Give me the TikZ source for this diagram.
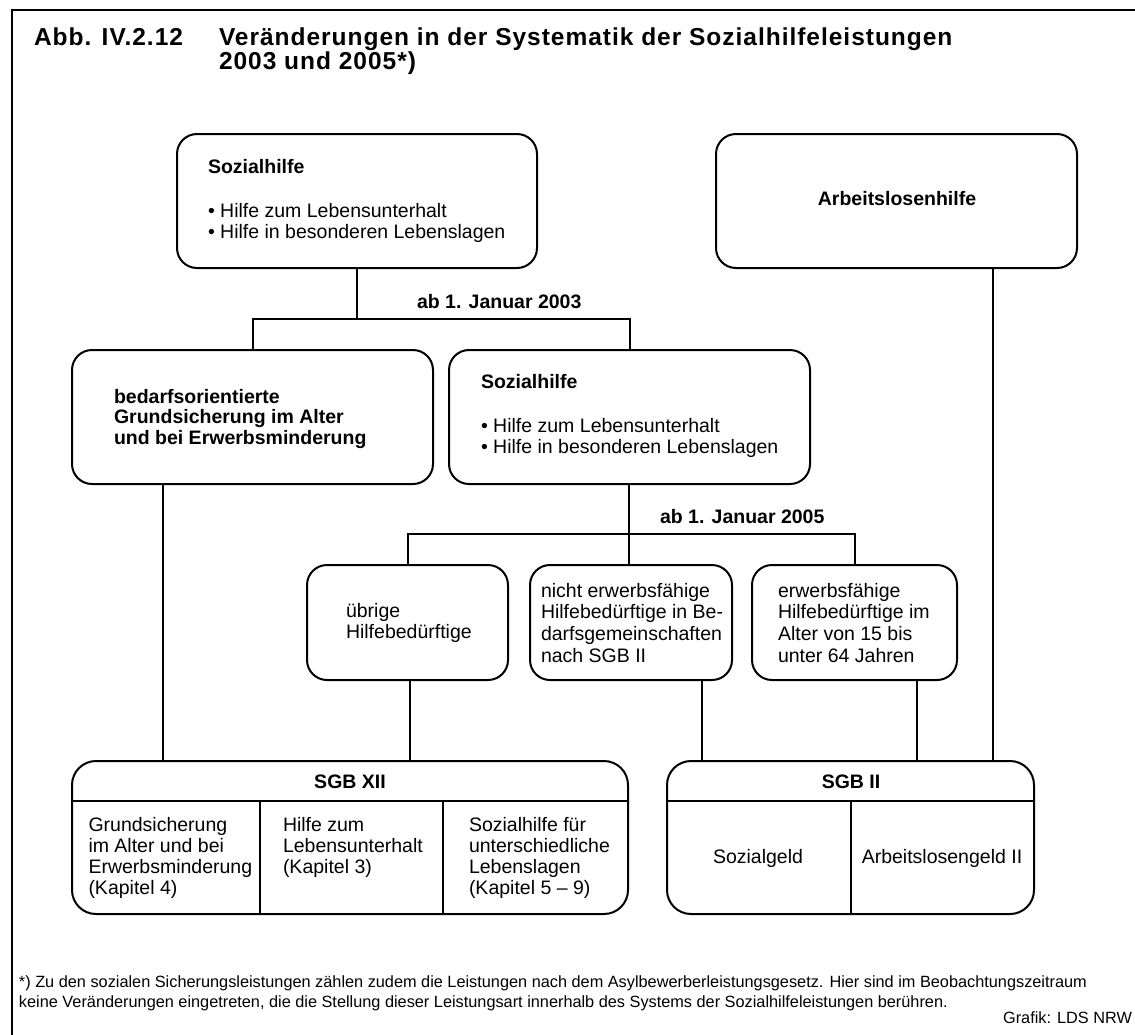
\documentclass[tikz,border=0pt]{standalone}
\usepackage{fontspec}
\setmainfont{Liberation Sans}
\newfontfamily\titlefont[LetterSpace=4]{Liberation Sans}
\newcommand\mlines[1]{\begin{tabular}[t]{@{}l@{}}#1\end{tabular}}
\begin{document}
\begin{tikzpicture}[x=1pt,y=-1pt,line width=2pt,
  box/.style={draw,rounded corners=20pt,inner sep=0pt,line width=2pt},
  bigbox/.style={draw,rounded corners=24pt,inner sep=0pt,line width=2pt},
  txt/.style={inner sep=0pt,anchor=base west,font=\fontsize{19.5}{21.5}\selectfont},
  btxt/.style={txt,font=\fontsize{19.5}{21.5}\selectfont\bfseries},
  ctxt/.style={inner sep=0pt,anchor=base,font=\fontsize{19.5}{21.5}\selectfont},
  bctxt/.style={ctxt,font=\fontsize{19.5}{21.5}\selectfont\bfseries},
  ttl/.style={inner sep=0pt,anchor=base west,font=\fontsize{24.5}{23}\titlefont\bfseries},
  fn/.style={inner sep=0pt,anchor=base west,font=\fontsize{16.3}{20}\selectfont}]
\useasboundingbox (0,0) rectangle (1135,1034);
% frame
\coordinate (fbl) at (12,1040);
\coordinate (ftl) at (12,10);
\coordinate (ftr) at (1140,10);
\draw[line width=2pt] (fbl) -- (ftl) -- (ftr);
% title
\node[ttl] (t1) at (33,45) {Abb. IV.2.12};
\node[ttl] (t2) at (218,45) {\mlines{Veränderungen in der Systematik der Sozialhilfeleistungen\\2003 und 2005*)}};
% top row
\node[box,minimum width=360,minimum height=134] (sh1) at (357,201) {};
\node[btxt] (sh1h) at (207,173) {Sozialhilfe};
\node[txt] (sh1b) at (207,217) {\mlines{• Hilfe zum Lebensunterhalt\\• Hilfe in besonderen Lebenslagen}};
\node[box,minimum width=361,minimum height=134] (alh) at (896.5,201) {};
\node[bctxt] (alht) at (897,205) {Arbeitslosenhilfe};
% second row
\node[box,minimum width=361,minimum height=134] (bed) at (252.5,417) {};
\node[txt,font=\fontsize{19.5}{20.5}\selectfont\bfseries] (bedt) at (113,403) {\mlines{bedarfsorientierte\\Grundsicherung im Alter\\und bei Erwerbsminderung}};
\node[box,minimum width=361,minimum height=134] (sh2) at (629.5,417) {};
\node[btxt] (sh2h) at (480,388) {Sozialhilfe};
\node[txt] (sh2b) at (480,432) {\mlines{• Hilfe zum Lebensunterhalt\\• Hilfe in besonderen Lebenslagen}};
% split 2003
\coordinate (j1) at (357,319);
\draw (sh1.south) -- (j1);
\draw (bed.north) |- (j1) -| (sh2.north);
\node[btxt] (ab03) at (416,308) {ab 1. Januar 2003};
% third row
\node[box,minimum width=201,minimum height=115] (ueb) at (407.5,622.5) {};
\node[txt] (uebt) at (345,617) {\mlines{übrige\\Hilfebedürftige}};
\node[box,minimum width=202,minimum height=115] (nef) at (631,622.5) {};
\node[txt,font=\fontsize{19.5}{21.7}\selectfont] (neft) at (540,597) {\mlines{nicht erwerbsfähige\\Hilfebedürftige in Be-\\darfsgemeinschaften\\nach SGB II}};
\node[box,minimum width=205,minimum height=115] (ef) at (854.5,622.5) {};
\node[txt,font=\fontsize{19.5}{21.7}\selectfont] (eft) at (777,597) {\mlines{erwerbsfähige\\Hilfebedürftige im\\Alter von 15 bis\\unter 64 Jahren}};
% split 2005
\coordinate (j2) at (629,534);
\coordinate (xsh2) at (629,0);
\draw (sh2.south -| xsh2) -- (nef.north -| xsh2);
\draw (ueb.north) |- (j2) -| (ef.north);
\node[btxt] (ab05) at (659,523) {ab 1. Januar 2005};
% bottom boxes
\node[bigbox,minimum width=556,minimum height=153] (sgb12) at (350,837.5) {};
\node[bigbox,minimum width=367,minimum height=153] (sgb2) at (850.5,837.5) {};
\coordinate (h12) at (0,801);
\draw (sgb12.west |- h12) -- (sgb12.east |- h12);
\draw (sgb2.west |- h12) -- (sgb2.east |- h12);
\coordinate (d1) at (260,801);
\coordinate (d2) at (443,801);
\coordinate (d3) at (851,801);
\draw (d1) -- (d1 |- sgb12.south);
\draw (d2) -- (d2 |- sgb12.south);
\draw (d3) -- (d3 |- sgb2.south);
\node[bctxt] (sgb12h) at (350,788) {SGB XII};
\node[bctxt] (sgb2h) at (851,788) {SGB II};
\node[txt,font=\fontsize{19.5}{21.3}\selectfont] (c1) at (87.5,831) {\mlines{Grundsicherung\\im Alter und bei\\Erwerbsminderung\\(Kapitel 4)}};
\node[txt,font=\fontsize{19.5}{21.3}\selectfont] (c2) at (282,831) {\mlines{Hilfe zum\\Lebensunterhalt\\(Kapitel 3)}};
\node[txt,font=\fontsize{19.5}{21.3}\selectfont] (c3) at (468,831) {\mlines{Sozialhilfe für\\unterschiedliche\\Lebenslagen\\(Kapitel 5 – 9)}};
\node[ctxt] (c4) at (758,863) {Sozialgeld};
\node[ctxt] (c5) at (942,863) {Arbeitslosengeld II};
% links down
\coordinate (xbed) at (163,0);
\coordinate (xueb) at (410,0);
\coordinate (xnef) at (702,0);
\coordinate (xef) at (917,0);
\coordinate (xalh) at (993,0);
\draw (bed.south -| xbed) -- (sgb12.north -| xbed);
\draw (ueb.south -| xueb) -- (sgb12.north -| xueb);
\draw (nef.south -| xnef) -- (sgb2.north -| xnef);
\draw (ef.south -| xef) -- (sgb2.north -| xef);
\draw (alh.south -| xalh) -- (sgb2.north -| xalh);
% footnote
\node[fn] (fn1) at (18,987) {\mlines{*) Zu den sozialen Sicherungsleistungen zählen zudem die Leistungen nach dem Asylbewerberleistungsgesetz. Hier sind im Beobachtungszeitraum\\keine Veränderungen eingetreten, die die Stellung dieser Leistungsart innerhalb des Systems der Sozialhilfeleistungen berühren.}};
\node[inner sep=0pt,anchor=base east,font=\fontsize{16.3}{20}\selectfont] (src) at (1133,1023) {Grafik: LDS NRW};
\end{tikzpicture}
\end{document}
